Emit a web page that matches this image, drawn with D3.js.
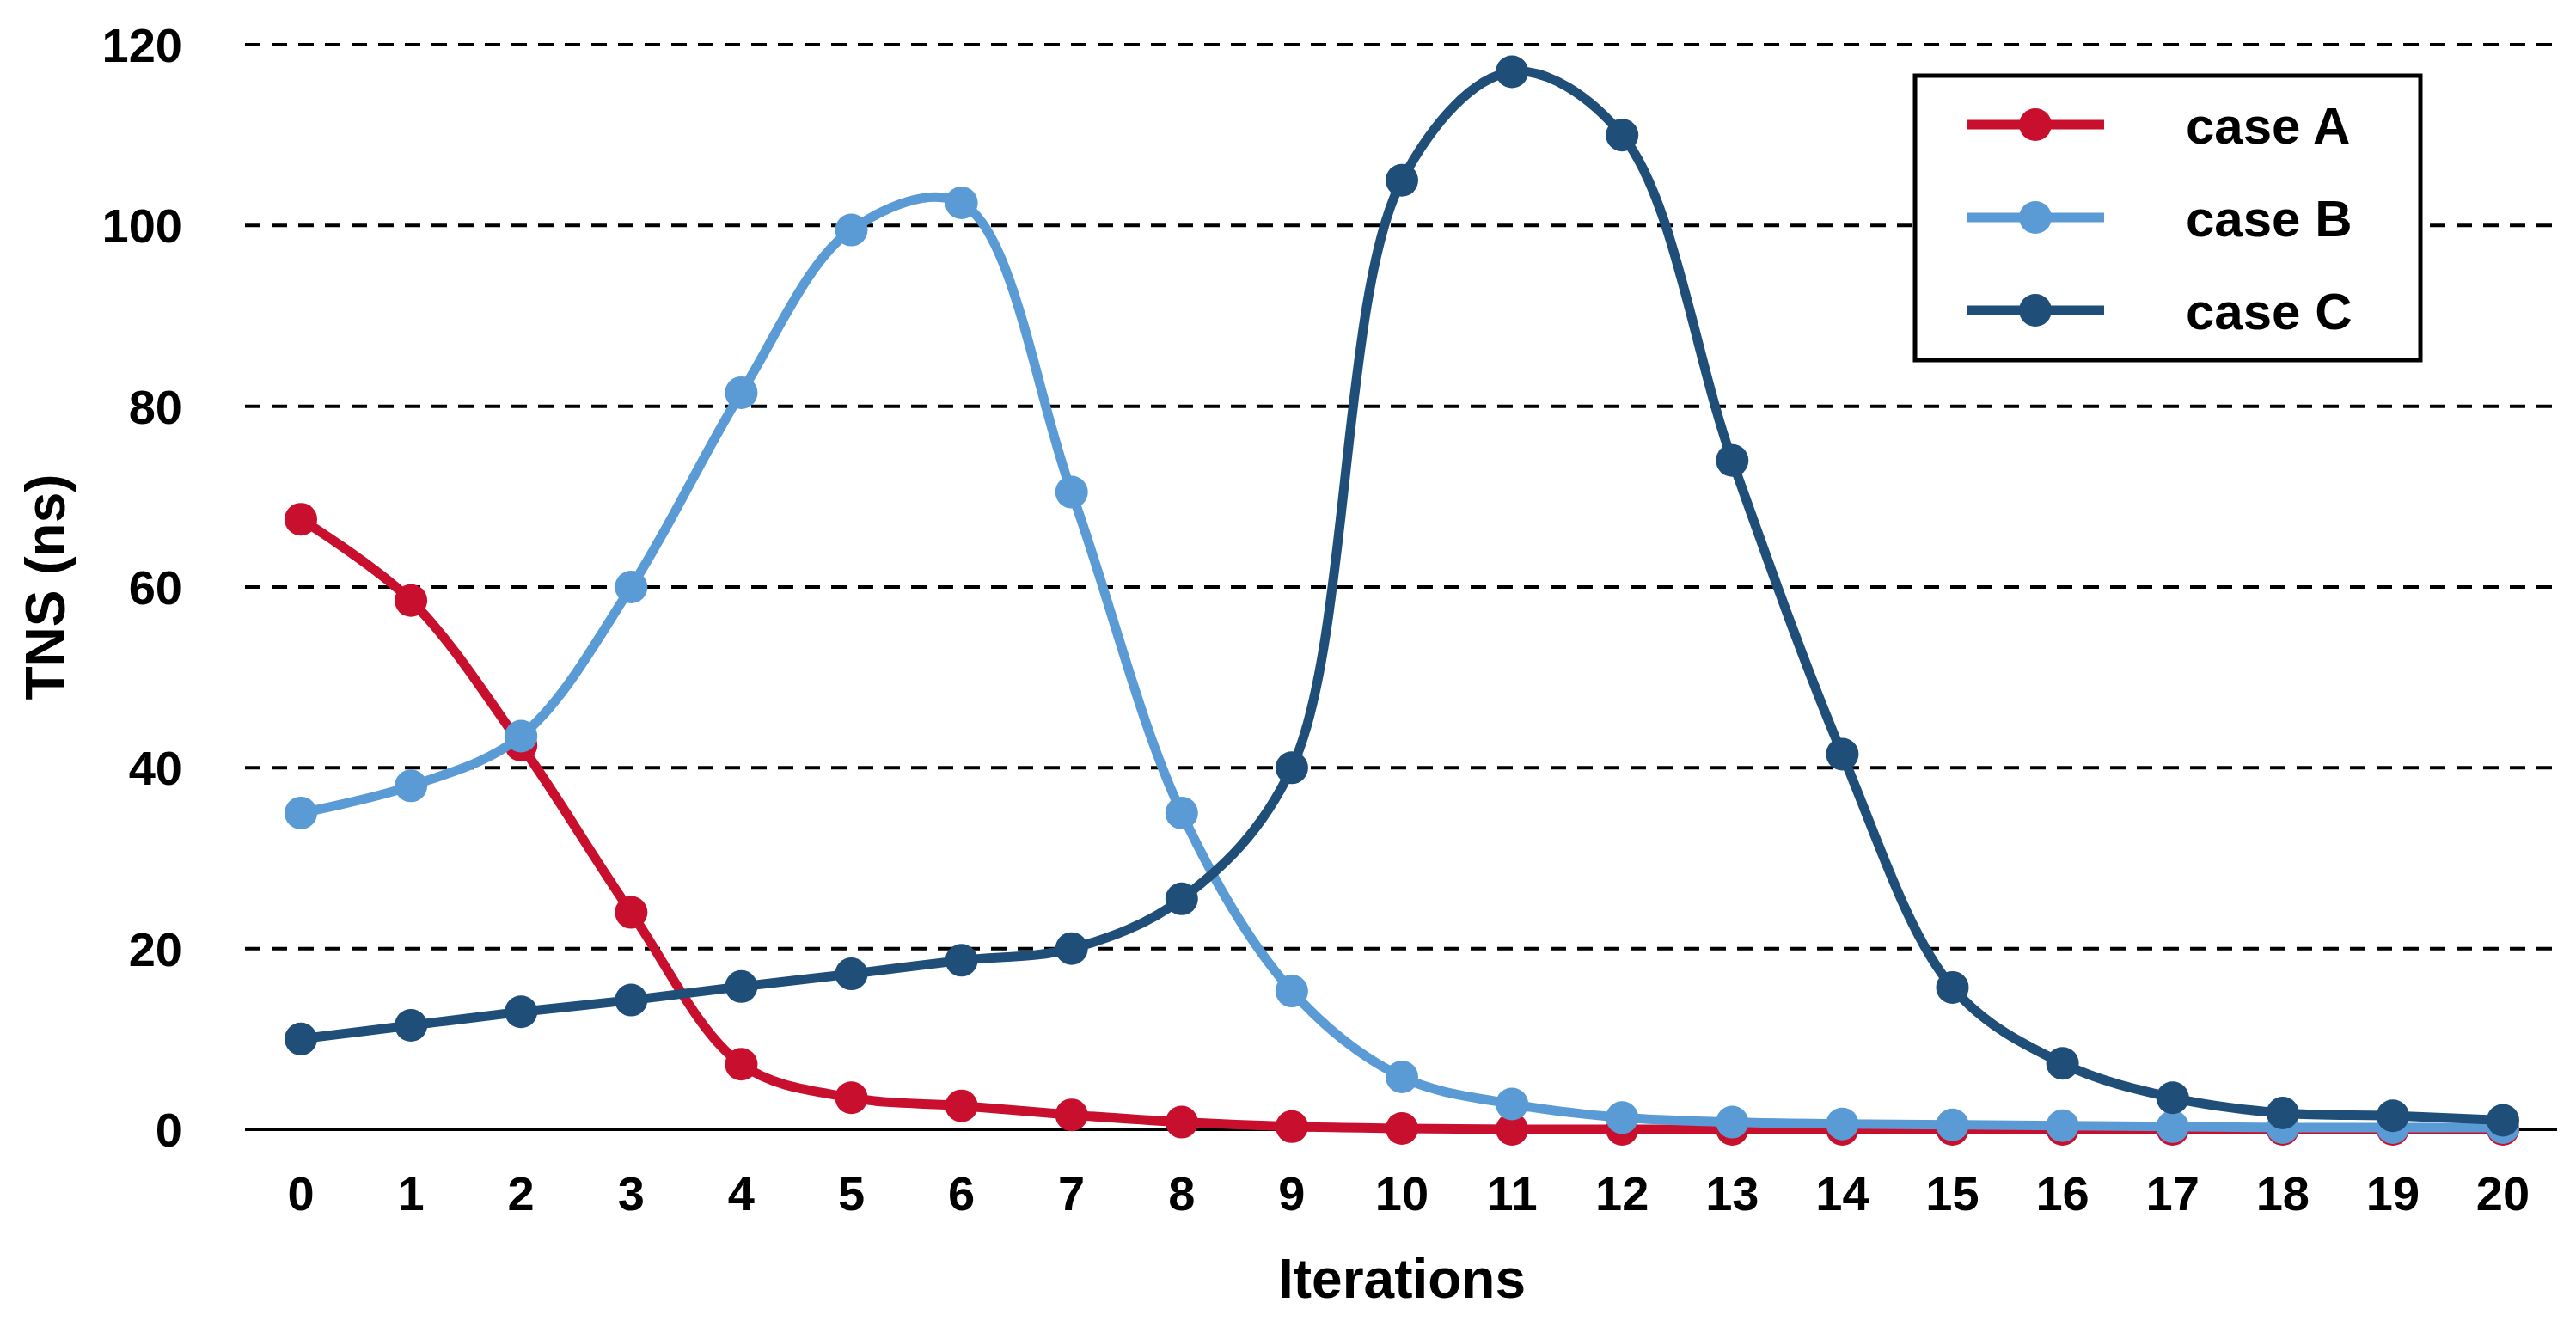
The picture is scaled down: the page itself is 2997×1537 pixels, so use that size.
<!DOCTYPE html>
<html><head><meta charset="utf-8">
<script src="https://cdn.jsdelivr.net/npm/d3@7"></script>
<style>body{margin:0;background:#fff}</style>
</head><body><svg id="c"></svg>
<script>
const iterations = d3.range(0, 21);
const caseA = [67.5, 58.5, 42.5, 24, 7.2, 3.5, 2.6, 1.6, 0.8, 0.3, 0.1, 0, 0, 0, 0, 0, 0, 0, 0, 0, 0];
const caseB = [35, 38, 43.5, 60, 81.5, 99.5, 102.5, 70.5, 35, 15.3, 5.8, 2.8, 1.3, 0.8, 0.6, 0.5, 0.4, 0.3, 0.2, 0.2, 0.2];
const caseC = [10, 11.5, 13, 14.3, 15.8, 17.2, 18.7, 20, 25.5, 40, 105, 117, 110, 74, 41.5, 15.7, 7.3, 3.5, 1.8, 1.5, 1.0];
const yTicks = [0, 20, 40, 60, 80, 100, 120];
const seriesNames = ["case A", "case B", "case C"];
const colors = ["#C8102E", "#5B9BD5", "#1F4E79"];

const W = 2997, H = 1537;
const svg = d3.select("#c").attr("width", W).attr("height", H)
  .attr("font-family", "Liberation Sans, Arial, sans-serif").attr("font-weight", "bold");

const x = d3.scaleLinear().domain([0, 20]).range([350, 2912]);
const y = d3.scaleLinear().domain([0, 120]).range([1314, 52]);

// grid
svg.append("g").selectAll("line").data(yTicks.filter(d => d > 0)).join("line")
  .attr("x1", 285).attr("x2", 2975).attr("y1", d => y(d)).attr("y2", d => y(d))
  .attr("stroke", "#000").attr("stroke-width", 4).attr("stroke-dasharray", "18,13");
svg.append("line").attr("x1", 285).attr("x2", 2975).attr("y1", y(0)).attr("y2", y(0))
  .attr("stroke", "#000").attr("stroke-width", 4);

// y labels
svg.append("g").selectAll("text").data(yTicks).join("text")
  .attr("x", 212).attr("y", d => y(d)).attr("dy", "0.36em").attr("text-anchor", "end")
  .attr("font-size", 56).text(d => d);
// x labels
svg.append("g").selectAll("text").data(iterations).join("text")
  .attr("x", d => x(d)).attr("y", 1408).attr("text-anchor", "middle")
  .attr("font-size", 56).text(d => d);

svg.append("text").attr("x", (350 + 2912) / 2).attr("y", 1510).attr("text-anchor", "middle")
  .attr("font-size", 64).text("Iterations");
svg.append("text").attr("transform", `translate(75,${y(60)}) rotate(-90)`).attr("text-anchor", "middle")
  .attr("font-size", 64).text("TNS (ns)");

const line = d3.line().x((d, i) => x(i)).y(d => y(d)).curve(d3.curveCatmullRom.alpha(0.5));
[caseA, caseB, caseC].forEach((s, k) => {
  const g = svg.append("g");
  g.append("path").attr("d", line(s)).attr("fill", "none").attr("stroke", colors[k]).attr("stroke-width", 11);
  g.selectAll("circle").data(s).join("circle")
    .attr("cx", (d, i) => x(i)).attr("cy", d => y(d)).attr("r", 19).attr("fill", colors[k]);
});
// redraw A on top? original draws C above B above A
// legend
const lg = svg.append("g").attr("transform", "translate(2228,88)");
lg.append("rect").attr("width", 588).attr("height", 331).attr("fill", "#fff")
  .attr("stroke", "#000").attr("stroke-width", 5);
seriesNames.forEach((n, k) => {
  const yy = 57 + k * 108;
  lg.append("line").attr("x1", 60).attr("x2", 220).attr("y1", yy).attr("y2", yy)
    .attr("stroke", colors[k]).attr("stroke-width", 11);
  lg.append("circle").attr("cx", 140).attr("cy", yy).attr("r", 19).attr("fill", colors[k]);
  lg.append("text").attr("x", 315).attr("y", yy).attr("dy", "0.36em").attr("font-size", 60).text(n);
});
</script></body></html>
